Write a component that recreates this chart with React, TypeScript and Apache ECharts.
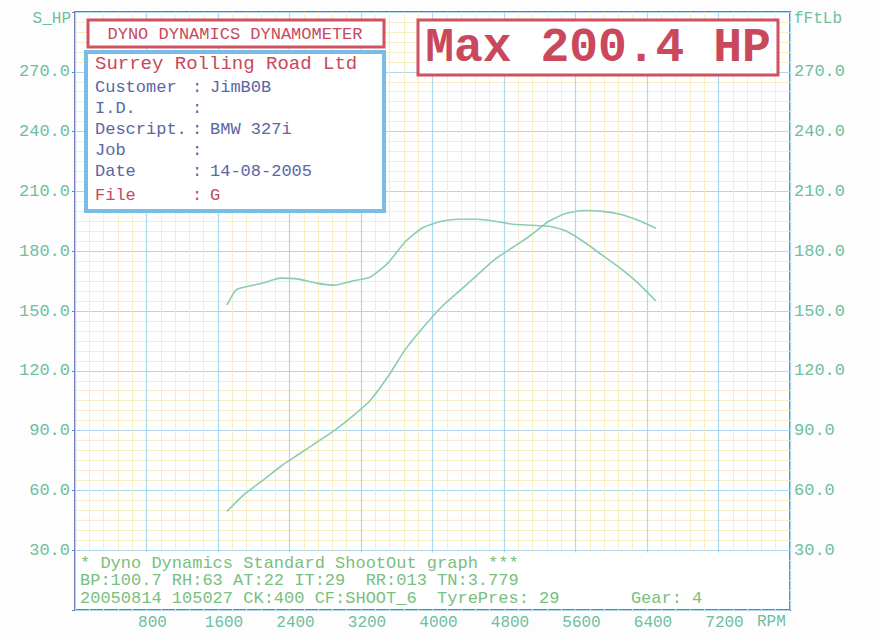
import React, { useEffect, useRef } from "react";
import * as echarts from "echarts";

const rpm = [1700, 1800, 1900, 2100, 2300, 2500, 2700, 2900, 3100, 3300, 3500, 3700, 3900, 4100, 4300, 4500, 4700, 4900, 5100, 5300, 5500, 5700, 5900, 6100, 6300, 6500];
const powerHp = [49.5, 54, 58.3, 65, 72, 78, 84, 90, 97, 105, 117, 131, 142, 152, 160, 168, 176, 182, 188, 195, 199, 200.4, 200, 198.5, 195.5, 191.5];
const torqueFtLb = [153, 160.5, 162, 164, 166.5, 166, 164, 163, 165, 167, 174, 185, 192, 195, 196, 196, 195, 193.5, 193, 192.5, 190, 184.5, 178, 171.5, 164, 155];

const xTickStep = 800;
const yTickStep = 30;

const infoRows: [string, string][] = [
  ["Customer", "JimB0B"],
  ["I.D.", ""],
  ["Descript.", "BMW 327i"],
  ["Job", ""],
  ["Date", "14-08-2005"],
];
const fileName = "G";
const company = "Surrey Rolling Road Ltd";
const footerLines = [
  "* Dyno Dynamics Standard ShootOut graph ***",
  "BP:100.7 RH:63 AT:22 IT:29  RR:013 TN:3.779",
  "20050814 105027 CK:400 CF:SHOOT_6  TyrePres: 29       Gear: 4",
];

const MONO = "'Liberation Mono', 'DejaVu Sans Mono', monospace";
const RED = "#c9485b";
const INK = "#5a66a4";
const TEAL = "#6dbf9f";
const CURVE = "#88ccb9";
const FRAME = "#6f78b8";

export default function App() {
  const ref = useRef<HTMLDivElement>(null);
  useEffect(() => {
    if (!ref.current) return;
    const chart = echarts.init(ref.current, undefined, { renderer: "svg" });
    const maxHp = Math.max(...powerHp);
    const info: any[] = [];
    info.push({
      type: "rect", z: 20,
      shape: { x: 88, y: 20, width: 296, height: 27 },
      style: { fill: "#fff", stroke: "#d0505f", lineWidth: 3 },
    });
    info.push({
      type: "text", z: 21, x: 235, y: 34,
      style: { text: "DYNO DYNAMICS DYNAMOMETER", font: `17px ${MONO}`, fill: RED, align: "center", verticalAlign: "middle" },
    });
    info.push({
      type: "rect", z: 20,
      shape: { x: 86, y: 52, width: 298, height: 159 },
      style: { fill: "#fff", stroke: "#78bde6", lineWidth: 4 },
    });
    info.push({
      type: "text", z: 21, x: 95, y: 64,
      style: { text: company, font: `19px ${MONO}`, fill: RED, align: "left", verticalAlign: "middle" },
    });
    const rowY = [87, 108, 129, 150, 171];
    infoRows.forEach((r, i) => {
      info.push({ type: "text", z: 21, x: 95, y: rowY[i], style: { text: r[0], font: `17px ${MONO}`, fill: INK, align: "left", verticalAlign: "middle" } });
      info.push({ type: "text", z: 21, x: 192, y: rowY[i], style: { text: ":", font: `17px ${MONO}`, fill: INK, align: "left", verticalAlign: "middle" } });
      if (r[1]) info.push({ type: "text", z: 21, x: 210, y: rowY[i], style: { text: r[1], font: `17px ${MONO}`, fill: INK, align: "left", verticalAlign: "middle" } });
    });
    info.push({ type: "text", z: 21, x: 95, y: 195, style: { text: "File", font: `17px ${MONO}`, fill: RED, align: "left", verticalAlign: "middle" } });
    info.push({ type: "text", z: 21, x: 192, y: 195, style: { text: ":", font: `17px ${MONO}`, fill: RED, align: "left", verticalAlign: "middle" } });
    info.push({ type: "text", z: 21, x: 210, y: 195, style: { text: fileName, font: `17px ${MONO}`, fill: RED, align: "left", verticalAlign: "middle" } });

    // Max box
    info.push({
      type: "rect", z: 20,
      shape: { x: 418, y: 20, width: 360, height: 55 },
      style: { fill: "#fff", stroke: "#d0505f", lineWidth: 3 },
    });
    info.push({
      type: "text", z: 21, x: 598, y: 48,
      style: { text: `Max ${maxHp.toFixed(1)} HP`, font: `bold 48px ${MONO}`, fill: RED, align: "center", verticalAlign: "middle" },
    });

    // footer box
    info.push({
      type: "rect", z: 20,
      shape: { x: 76, y: 552.5, width: 713, height: 56.5 },
      style: { fill: "#fff" },
    });
    const footY = [563, 580.5, 598];
    footerLines.forEach((t, i) => {
      info.push({ type: "text", z: 21, x: 80, y: footY[i], style: { text: t, font: `17px ${MONO}`, fill: "#78c07e", align: "left", verticalAlign: "middle" } });
    });

    // axis captions
    info.push({ type: "text", z: 21, x: 71, y: 19, style: { text: "S_HP", font: `16px ${MONO}`, fill: TEAL, align: "right", verticalAlign: "middle" } });
    info.push({ type: "text", z: 21, x: 794, y: 19, style: { text: "fFtLb", font: `16px ${MONO}`, fill: TEAL, align: "left", verticalAlign: "middle" } });
    info.push({ type: "text", z: 21, x: 757, y: 622, style: { text: "RPM", font: `16px ${MONO}`, fill: TEAL, align: "left", verticalAlign: "middle" } });

    const yLabelFmt = (v: number) => (v <= 0 || v >= 300 ? "" : v.toFixed(1));

    chart.setOption({
      animation: false,
      backgroundColor: "#fdfdfd",
      grid: {
        left: 75, top: 12, width: 715, height: 598,
        show: true, backgroundColor: "#ffffff", borderColor: FRAME, borderWidth: 2,
      },
      xAxis: {
        type: "value", min: 0, max: 8000, interval: xTickStep,
        axisLine: { show: false }, axisTick: { show: false },
        axisLabel: {
          show: true, margin: 5, showMinLabel: false, showMaxLabel: false,
          fontFamily: MONO, fontSize: 16, color: TEAL,
          padding: [0, 0, 0, 12],
          formatter: (v: number) => (v <= 0 || v >= 8000 ? "" : String(v)),
        },
        splitLine: { show: true, lineStyle: { color: "#acd8f0", width: 1.2 } },
        minorTick: { show: false, splitNumber: 5 },
        minorSplitLine: { show: true, lineStyle: { color: "#f7eec6", width: 1 } },
      },
      yAxis: [
        {
          type: "value", min: 0, max: 300, interval: yTickStep, position: "left",
          axisLine: { show: false },
          axisTick: { show: true, length: 3, lineStyle: { color: FRAME } },
          axisLabel: { margin: 5, fontFamily: MONO, fontSize: 17, color: TEAL, formatter: yLabelFmt },
          splitLine: { show: true, lineStyle: { color: "#acd8f0", width: 1.2 } },
          minorTick: { show: false, splitNumber: 6 },
          minorSplitLine: { show: true, lineStyle: { color: "#f7eec6", width: 1 } },
        },
        {
          type: "value", min: 0, max: 300, interval: yTickStep, position: "right",
          axisLine: { show: false }, axisTick: { show: false },
          axisLabel: { margin: 4, fontFamily: MONO, fontSize: 17, color: TEAL, formatter: yLabelFmt },
          splitLine: { show: false },
        },
      ],
      series: [
        {
          type: "line", name: "S_HP", yAxisIndex: 0, smooth: 0.2, showSymbol: false,
          lineStyle: { color: CURVE, width: 1.6 },
          data: rpm.map((r, i) => [r, powerHp[i]]),
        },
        {
          type: "line", name: "fFtLb", yAxisIndex: 1, smooth: 0.2, showSymbol: false,
          lineStyle: { color: CURVE, width: 1.6 },
          data: rpm.map((r, i) => [r, torqueFtLb[i]]),
        },
      ],
      graphic: info,
    });
    return () => chart.dispose();
  }, []);
  return <div ref={ref} style={{ position: "fixed", left: 0, top: 0, width: 880, height: 640 }} />;
}
